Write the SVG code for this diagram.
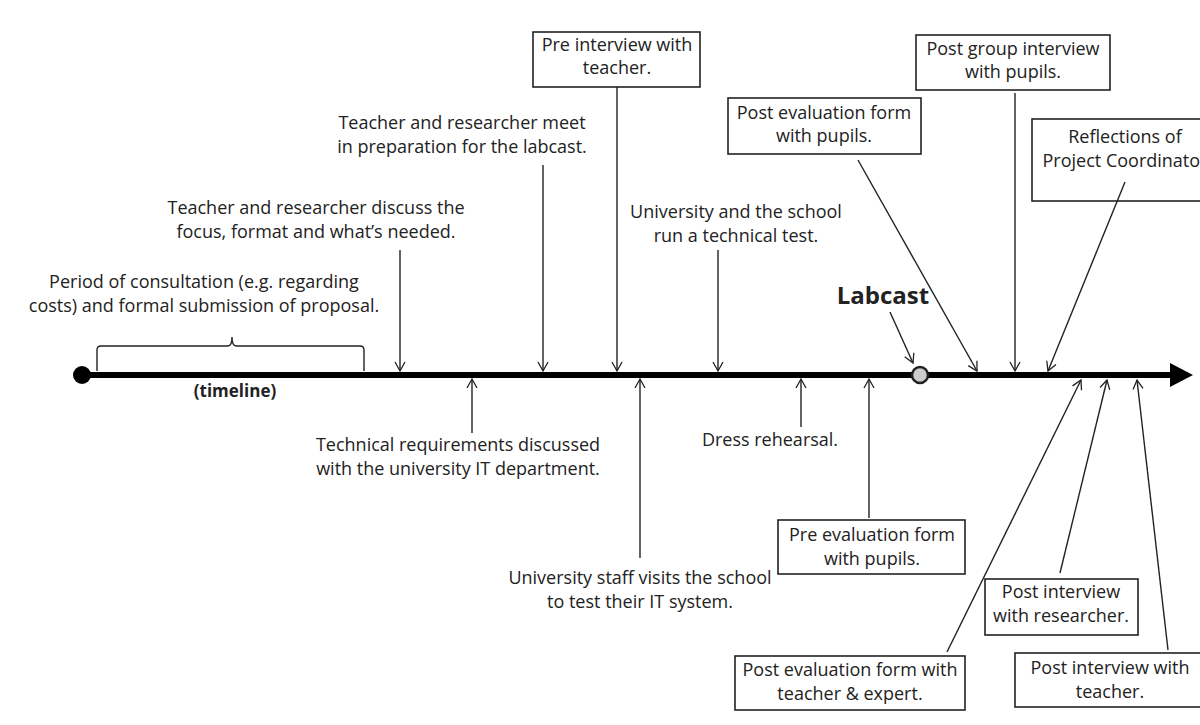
<svg xmlns="http://www.w3.org/2000/svg" width="1200" height="725" viewBox="0 0 1200 725">
<style>
text{font-family:"Open Sans","DejaVu Sans",sans-serif;font-size:18px;fill:#222;text-anchor:middle}
.b{font-weight:bold}
.box{fill:#fff;stroke:#222;stroke-width:1.6}
.c{stroke:#222;stroke-width:1.4;fill:none}
</style>
<defs>
<marker id="ah" markerWidth="12" markerHeight="12" refX="10" refY="6" orient="auto" markerUnits="userSpaceOnUse">
<path d="M1,1 L10,6 L1,11" fill="none" stroke="#222" stroke-width="1.3"/>
</marker>
</defs>
<rect width="1200" height="725" fill="#fff"/>

<g id="timeline">
<line x1="82" y1="375" x2="1175" y2="375" stroke="#000" stroke-width="6"/>
<path d="M1170,363 L1193,375 L1170,387 Z" fill="#000"/>
<circle cx="82" cy="375" r="9" fill="#000"/>
<text class="b" x="235" y="397" style="font-size:17px">(timeline)</text>
</g>

<g id="labcast">
<circle cx="920" cy="375" r="8" fill="#ccc" stroke="#222" stroke-width="2.5"/>
<text class="b" x="883" y="304" style="font-size:24px">Labcast</text>
</g>

<g id="consultation">
<text x="204" y="288">Period of consultation (e.g. regarding</text>
<text x="204" y="312">costs) and formal submission of proposal.</text>
<path class="c" d="M97,371 L97,350 Q97,346 101,346 L228,346 Q232,346 232,337 Q232,346 236,346 L360,346 Q364,346 364,350 L364,371"/>
</g>

<g id="discuss">
<text x="316" y="214">Teacher and researcher discuss the</text>
<text x="316" y="238">focus, format and what’s needed.</text>
</g>
<g id="meet">
<text x="462" y="129">Teacher and researcher meet</text>
<text x="462" y="153">in preparation for the labcast.</text>
</g>
<g id="preinterview">
<rect class="box" x="533" y="32" width="167" height="55"/>
<text x="617" y="51">Pre interview with</text>
<text x="617" y="74">teacher.</text>
</g>
<g id="techtest">
<text x="736" y="218">University and the school</text>
<text x="736" y="242">run a technical test.</text>
</g>
<g id="postevalpupils">
<rect class="box" x="728" y="98" width="193" height="56"/>
<text x="824" y="119">Post evaluation form</text>
<text x="824" y="142">with pupils.</text>
</g>
<g id="postgroup">
<rect class="box" x="916" y="35" width="194" height="55"/>
<text x="1013" y="55">Post group interview</text>
<text x="1013" y="78">with pupils.</text>
</g>
<g id="reflections">
<rect class="box" x="1032" y="119" width="180" height="82"/>
<text x="1125" y="143">Reflections of</text>
<text x="1125" y="167">Project Coordinator</text>
</g>

<g id="techreq">
<text x="458" y="451">Technical requirements discussed</text>
<text x="458" y="475">with the university IT department.</text>
</g>
<g id="staffvisit">
<text x="640" y="584">University staff visits the school</text>
<text x="640" y="608">to test their IT system.</text>
</g>
<g id="dress">
<text x="770" y="446">Dress rehearsal.</text>
</g>
<g id="preevalpupils">
<rect class="box" x="778" y="520" width="187" height="54"/>
<text x="872" y="541">Pre evaluation form</text>
<text x="872" y="565">with pupils.</text>
</g>
<g id="postintresearcher">
<rect class="box" x="985" y="579" width="153" height="56"/>
<text x="1061" y="598">Post interview</text>
<text x="1061" y="622">with researcher.</text>
</g>
<g id="postevalteacher">
<rect class="box" x="735" y="656" width="230" height="54"/>
<text x="850" y="676">Post evaluation form with</text>
<text x="850" y="700">teacher &amp; expert.</text>
</g>
<g id="postintteacher">
<rect class="box" x="1015" y="653" width="195" height="54"/>
<text x="1110" y="674">Post interview with</text>
<text x="1110" y="698">teacher.</text>
</g>

<g id="connectors">
<line class="c" x1="400" y1="250" x2="400" y2="371" marker-end="url(#ah)"/>
<line class="c" x1="543" y1="165" x2="543" y2="371" marker-end="url(#ah)"/>
<line class="c" x1="617" y1="87" x2="617" y2="371" marker-end="url(#ah)"/>
<line class="c" x1="718" y1="250" x2="718" y2="371" marker-end="url(#ah)"/>
<line class="c" x1="858" y1="160" x2="977" y2="371" marker-end="url(#ah)"/>
<line class="c" x1="1015" y1="93" x2="1015" y2="371" marker-end="url(#ah)"/>
<line class="c" x1="1125" y1="182" x2="1048" y2="371" marker-end="url(#ah)"/>
<line class="c" x1="890" y1="312" x2="913" y2="363" marker-end="url(#ah)"/>
<line class="c" x1="472" y1="433" x2="472" y2="379" marker-end="url(#ah)"/>
<line class="c" x1="640" y1="558" x2="640" y2="379" marker-end="url(#ah)"/>
<line class="c" x1="801" y1="427" x2="801" y2="379" marker-end="url(#ah)"/>
<line class="c" x1="869" y1="518" x2="869" y2="379" marker-end="url(#ah)"/>
<line class="c" x1="947" y1="652" x2="1081" y2="380" marker-end="url(#ah)"/>
<line class="c" x1="1060" y1="573" x2="1107" y2="380" marker-end="url(#ah)"/>
<line class="c" x1="1168" y1="650" x2="1137" y2="380" marker-end="url(#ah)"/>
</g>
</svg>
